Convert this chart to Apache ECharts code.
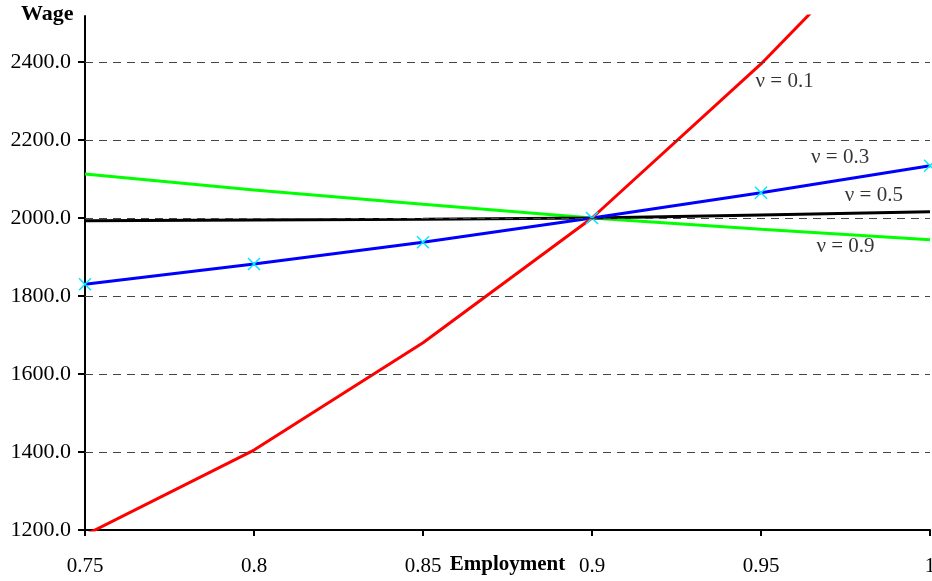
<!DOCTYPE html>
<html>
<head>
<meta charset="utf-8">
<script src="https://cdn.jsdelivr.net/npm/echarts@6/dist/echarts.min.js"></script>
<style>
  html, body { margin: 0; padding: 0; background: #fff; }
  #chart { width: 932px; height: 581px; }
</style>
</head>
<body>
<div id="chart"></div>
<script>
// Employment levels on the horizontal axis
const employment = [0.75, 0.8, 0.85, 0.9, 0.95, 1];

// Wage curves for each value of nu
const wageNu01 = [1187, 1405, 1680, 2000, 2395, 2840];
const wageNu03 = [1830, 1882, 1938, 2000, 2065, 2134];
const wageNu05 = [1993, 1995, 1997, 2000, 2008, 2016];
const wageNu09 = [2113, 2072, 2035, 2000, 1971, 1944];

// Axis ticks
const xTicks = [0.75, 0.8, 0.85, 0.9, 0.95, 1];
const yTicks = [1200, 1400, 1600, 1800, 2000, 2200, 2400];

// Curve captions and where they sit (data coordinates)
const captions = ['ν = 0.1', 'ν = 0.3', 'ν = 0.5', 'ν = 0.9'];
const captionAt = [[0.957, 2349], [0.9734, 2156], [0.9834, 2059], [0.975, 1926]];

const FONT = '"Liberation Serif", "Times New Roman", serif';

const pairs = ys => employment.map((x, i) => [x, ys[i]]);

const chart = echarts.init(document.getElementById('chart'), null, { renderer: 'canvas' });

const baseLine = (name, ys, color) => ({
  name,
  type: 'line',
  data: pairs(ys),
  showSymbol: false,
  symbol: 'none',
  lineStyle: { color, width: 3 },
  itemStyle: { color },
  z: 3,
  animation: false,
  silent: true
});

const series = [
  {
    name: 'grid',
    type: 'line',
    data: [],
    z: 1,
    silent: true,
    animation: false,
    markLine: {
      silent: true,
      symbol: 'none',
      label: { show: false },
      lineStyle: { color: '#444', type: [8, 6], width: 1 },
      data: yTicks.filter(v => v > 1200).map(v => ({ yAxis: v }))
    }
  },
  baseLine('ν=0.9', wageNu09, '#00ff00'),
  baseLine('ν=0.5', wageNu05, '#000000'),
  Object.assign(baseLine('ν=0.3', wageNu03, '#0000ff'), {
    showSymbol: true,
    symbol: 'path://M0,0L10,10M10,0L0,10',
    symbolSize: 12,
    itemStyle: { color: 'rgba(0,0,0,0)', borderColor: '#00e8ff', borderWidth: 1.5 }
  }),
  baseLine('ν=0.1', wageNu01, '#ff0000'),
  {
    name: 'captions',
    type: 'scatter',
    symbolSize: 0,
    silent: true,
    animation: false,
    z: 5,
    data: captions.map((t, i) => ({ value: captionAt[i], name: t })),
    label: {
      show: true,
      position: 'inside',
      formatter: p => p.name,
      fontFamily: FONT,
      fontSize: 21,
      color: '#000'
    }
  }
];

chart.setOption({
  backgroundColor: '#fff',
  animation: false,
  grid: { left: 85, right: 2, top: 16, bottom: 51, containLabel: false, outerBoundsMode: 'none' },
  xAxis: {
    type: 'value',
    min: 0.75,
    max: 1,
    name: 'Employment',
    nameLocation: 'middle',
    nameGap: 24,
    nameMoveOverlap: false,
    nameTextStyle: { fontFamily: FONT, fontSize: 21, fontWeight: 'bold', color: '#000' },
    axisLine: { show: true, onZero: false, lineStyle: { color: '#000', width: 2 } },
    axisTick: { show: true, length: 6, lineStyle: { color: '#000', width: 2 }, customValues: xTicks },
    axisLabel: {
      customValues: xTicks,
      formatter: v => String(v),
      fontFamily: FONT, fontSize: 21, color: '#000', margin: 26
    },
    splitLine: { show: false }
  },
  yAxis: {
    type: 'value',
    min: 1200,
    max: 2518,
    axisLine: { show: true, onZero: false, lineStyle: { color: '#000', width: 2 } },
    axisTick: { show: true, length: 7, lineStyle: { color: '#000', width: 2 }, customValues: yTicks },
    axisLabel: {
      customValues: yTicks,
      formatter: v => v.toFixed(1),
      fontFamily: FONT, fontSize: 22, color: '#000', margin: 14
    },
    splitLine: { show: false }
  },
  graphic: [
    {
      type: 'text',
      left: 21,
      top: 3,
      style: { text: 'Wage', font: 'bold 22px ' + FONT, fill: '#000' }
    }
  ],
  series
});
</script>
</body>
</html>
